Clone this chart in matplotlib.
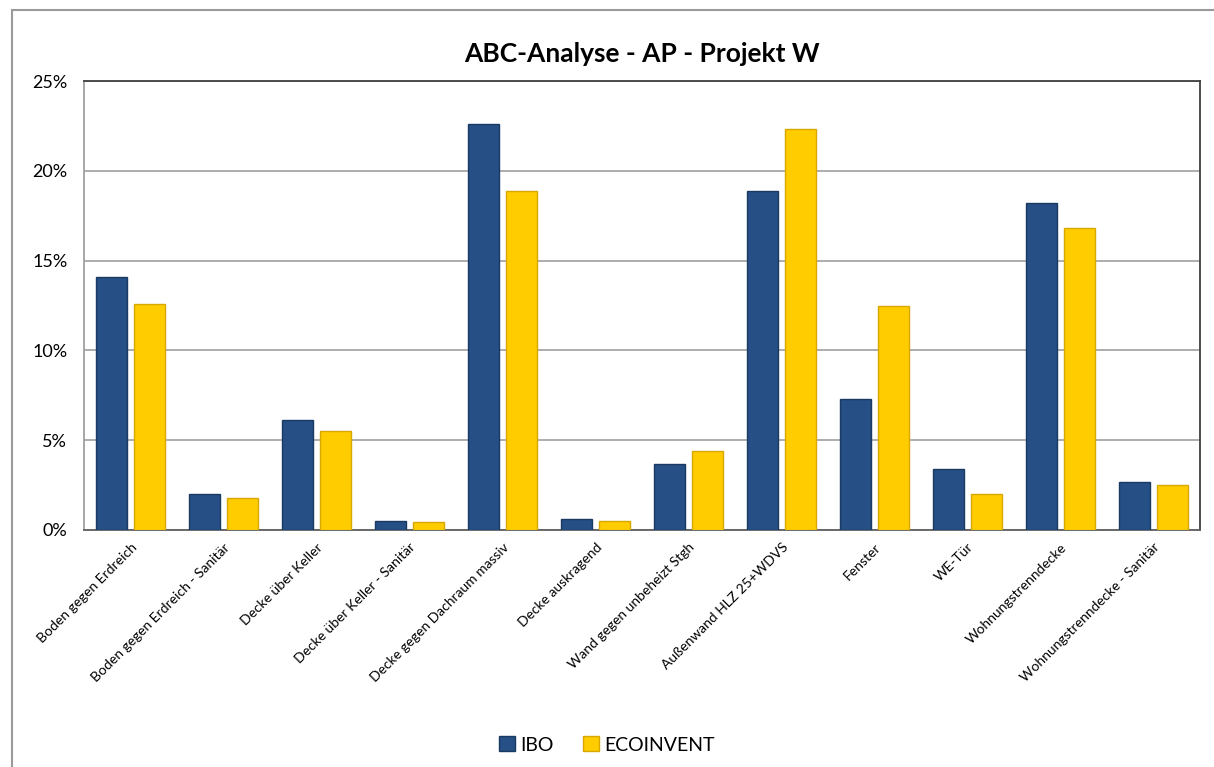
import matplotlib.pyplot as plt
import matplotlib.patches as mpatches
import numpy as np

categories = ["Boden gegen Erdreich", "Boden gegen Erdreich - Sanitär", "Decke über Keller",
              "Decke über Keller - Sanitär", "Decke gegen Dachraum massiv", "Decke auskragend",
              "Wand gegen unbeheizt Stgh", "Außenwand HLZ 25+WDVS", "Fenster", "WE-Tür",
              "Wohnungstrenndecke", "Wohnungstrenndecke - Sanitär"]
ibo = [14.1, 2.0, 6.1, 0.5, 22.6, 0.6, 3.7, 18.9, 7.3, 3.4, 18.2, 2.7]
ecoinvent = [12.6, 1.8, 5.5, 0.45, 18.9, 0.5, 4.4, 22.3, 12.5, 2.0, 16.8, 2.5]
yticks = [0, 5, 10, 15, 20, 25]

plt.rcParams['font.family'] = ['Lato', 'DejaVu Sans']

fig = plt.figure(figsize=(12.14, 7.67), dpi=100)
ax = fig.add_axes([84 / 1214, 1 - 530 / 767, (1200 - 84) / 1214, (530 - 81) / 767])

# chart border
fig.patches.append(mpatches.Rectangle((12 / 1214, -0.01), 1.0, 1 - 10 / 767 + 0.01,
                                      transform=fig.transFigure, fill=False,
                                      edgecolor='#9a9a9a', linewidth=1.5))

x = np.arange(len(categories))
w = 0.33
c_ibo = '#264f86'
c_eco = '#ffcc00'
ax.bar(x - w / 2 - 0.04, ibo, w, color=c_ibo, edgecolor='#1b3a63', linewidth=1.0,
       label='IBO', zorder=3)
ax.bar(x + w / 2 + 0.04, ecoinvent, w, color=c_eco, edgecolor='#d9a800', linewidth=1.0,
       label='ECOINVENT', zorder=3)

ax.set_xlim(-0.5, len(categories) - 0.5)
ax.set_ylim(0, 25)
ax.set_yticks(yticks)
ax.set_yticklabels([f"{t}%" for t in yticks], fontsize=13)
ax.yaxis.grid(True, color='#a0a0a0', linewidth=1.2, zorder=0)
ax.tick_params(axis='y', length=0, pad=12)
ax.tick_params(axis='x', length=0, pad=8)
ax.set_xticks(x)
ax.set_xticklabels(categories, rotation=45, ha='right', rotation_mode='anchor', fontsize=10)

ax.spines['top'].set_color('#404040')
ax.spines['right'].set_color('#404040')
ax.spines['left'].set_color('#a0a0a0')
ax.spines['bottom'].set_color('#606060')
for s in ax.spines.values():
    s.set_linewidth(1.3)

ax.set_title("ABC-Analyse - AP - Projekt W", fontsize=19, fontweight='bold', pad=14)

handles = [mpatches.Patch(facecolor=c_ibo, edgecolor='#1b3a63', label='IBO'),
           mpatches.Patch(facecolor=c_eco, edgecolor='#d9a800', label='ECOINVENT')]
fig.legend(handles=handles, loc='center', bbox_to_anchor=(0.5, 1 - 745 / 767), ncol=2,
           frameon=False, fontsize=14, handlelength=0.8, handleheight=0.8,
           handletextpad=0.3, columnspacing=1.5)

fig.savefig('out.png', dpi=100)
